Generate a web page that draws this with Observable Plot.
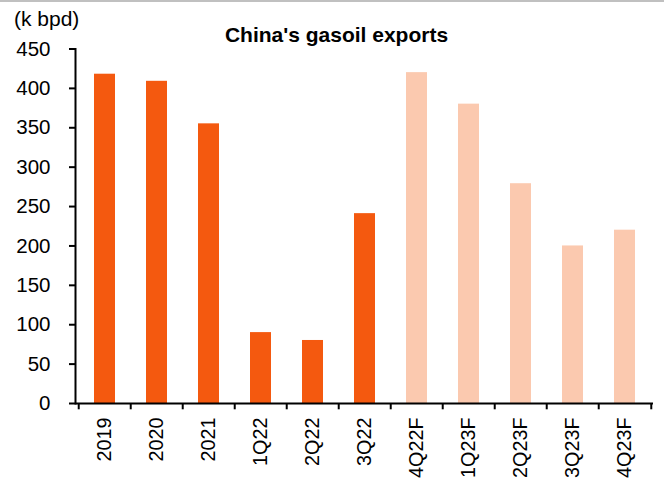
<!DOCTYPE html>
<html>
<head>
<meta charset="utf-8">
<script src="https://cdn.jsdelivr.net/npm/d3@7"></script>
<script src="https://cdn.jsdelivr.net/npm/@observablehq/plot@0.6"></script>
<style>
  html, body { margin: 0; padding: 0; background: #fff; }
  #wrap { position: relative; width: 664px; height: 479px; overflow: hidden; border-top: 2px solid #c0c0c0; box-sizing: border-box; font-family: "Liberation Sans", Arial, sans-serif; }
  #title { position: absolute; left: 0; width: 673px; top: 21.9px; text-align: center; font-weight: bold; font-size: 21px; line-height: 21px; color: #000; }
  #unit { position: absolute; left: 14px; top: 6.2px; font-size: 21px; line-height: 21px; color: #000; }
  #chart { position: absolute; left: 0; top: 0; }
</style>
</head>
<body>
<div id="wrap">
  <div id="chart"></div>
  <div id="title">China's gasoil exports</div>
  <div id="unit">(k bpd)</div>
</div>
<script>
const categories = ["2019","2020","2021","1Q22","2Q22","3Q22","4Q22F","1Q23F","2Q23F","3Q23F","4Q23F"];
const values = [418, 409, 355, 90, 80, 241, 420, 380, 279, 200, 220];
const kinds = ["Actual","Actual","Actual","Actual","Actual","Actual","Forecast","Forecast","Forecast","Forecast","Forecast"];
const yTicks = [0, 50, 100, 150, 200, 250, 300, 350, 400, 450];

const data = categories.map((c, i) => ({cat: c, value: values[i], kind: kinds[i]}));

const W = 664, H = 477, ML = 75, MR = 11, MT = 46.5, MB = 76;
const step = (W - ML - MR) / categories.length;
const lastCat = [categories[categories.length - 1]];

const chart = Plot.plot({
  width: W,
  height: H,
  marginLeft: ML,
  marginRight: MR,
  marginTop: MT,
  marginBottom: MB,
  style: {fontFamily: "'Liberation Sans', Arial, sans-serif", fontSize: "20.5px", color: "#000", background: "transparent", overflow: "visible"},
  x: {domain: categories, paddingInner: 0.6, paddingOuter: 0.3},
  y: {domain: [0, 450]},
  color: {domain: ["Actual", "Forecast"], range: ["#F4590F", "#FBC9AF"]},
  marks: [
    Plot.barY(data, {x: "cat", y: "value", fill: "kind"}),
    Plot.axisY({ticks: yTicks, tickSize: 6, tickPadding: 19, fontSize: 20.5, strokeWidth: 2, label: null}),
    Plot.axisX({tickSize: 0, tickPadding: 14, tickRotate: -90, fontSize: 19.8, label: null}),
    Plot.ruleX(categories, {x: d => d, dx: -step / 2, y1: 0, y2: -8, stroke: "#000", strokeWidth: 2}),
    Plot.ruleX(lastCat, {x: d => d, dx: step / 2, y1: 0, y2: -8, stroke: "#000", strokeWidth: 2}),
    Plot.frame({anchor: "left", stroke: "#000", strokeWidth: 2}),
    Plot.ruleY([0], {stroke: "#000", strokeWidth: 2})
  ]
});
document.getElementById("chart").appendChild(chart);
</script>
</body>
</html>
